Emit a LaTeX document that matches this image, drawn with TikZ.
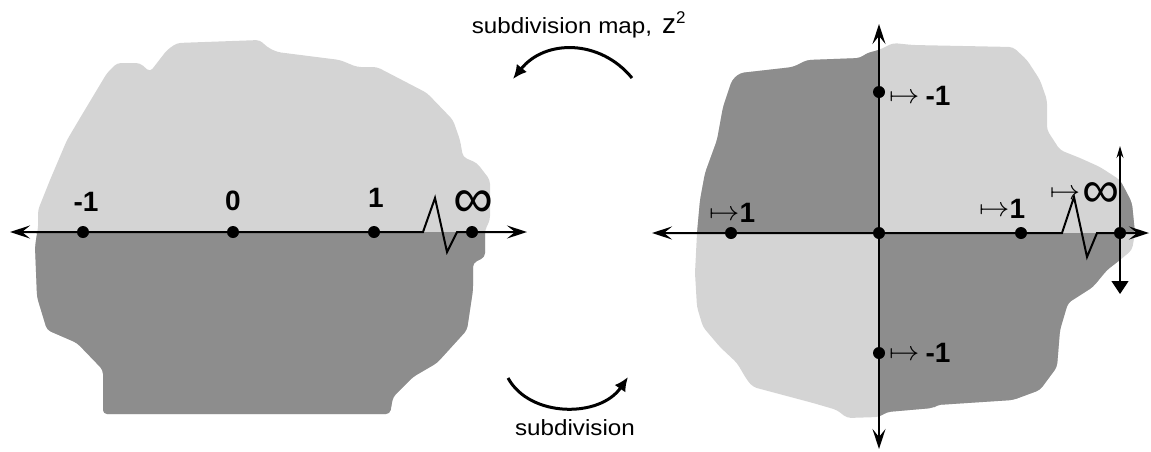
\documentclass[tikz,border=0pt]{standalone}
\usepackage{fontspec}
\usepackage{graphicx}
\setmainfont{Liberation Sans}
\usetikzlibrary{arrows.meta}
\definecolor{lightgr}{RGB}{212,212,212}
\definecolor{darkgr}{RGB}{141,141,141}
\newcommand{\mymap}{\raisebox{2pt}{\scalebox{1.22}[1.1]{$\mapsto$}}}
\begin{document}
\begin{tikzpicture}[x=1pt,y=-1pt,
  dot/.style={circle,fill=black,inner sep=0pt,minimum size=12pt},
  lbl/.style={inner sep=0pt,font=\fontsize{28}{30}\selectfont\bfseries},
  inflbl/.style={inner sep=0pt,font=\fontsize{56}{56}\selectfont},
  capt/.style={inner sep=0pt,font=\fontsize{22}{24}\selectfont},
  axisline/.style={line width=2pt,line join=miter,
    {Stealth[length=20pt,width=13pt,inset=8pt]}-{Stealth[length=20pt,width=13pt,inset=8pt]}},
  curvarrow/.style={line width=3pt,-{Latex[length=14pt,width=13pt]}},
]
\useasboundingbox (0,0) rectangle (1151,451);

% ---------------- left blob ----------------
\def\leftblob{(38,230) -- (38,210) -- (50,180) -- (67,140) -- (83,113) -- (107,73) -- (117,63) -- (140,63) -- (150,72) -- (167,50) -- (177,43) -- (260,40) -- (267,47) -- (277,52) -- (340,60) -- (357,67) -- (377,67) -- (427,93) -- (453,120) -- (460,140) -- (463,157) -- (477,163) -- (490,180) -- (490,220) -- (485,230) -- (485,257) -- (473,263) -- (473,290) -- (467,330) -- (437,363) -- (413,377) -- (393,397) -- (390,414) -- (103,414) -- (103,370) -- (77,343) -- (47,330) -- (37,297) -- (35,247) -- (37,233) -- cycle}
\fill[lightgr,rounded corners=4pt] \leftblob;
\begin{scope}
  \clip[rounded corners=4pt] \leftblob;
  \fill[darkgr] (0,232) rectangle (520,451);
\end{scope}

% ---------------- right blob ----------------
\def\rightblob{(879,50) -- (893,43) -- (913,45) -- (1013,47) -- (1027,60) -- (1040,80) -- (1047,100) -- (1047,130) -- (1060,150) -- (1080,158) -- (1100,167) -- (1120,180) -- (1127,193) -- (1132,203) -- (1135,233) -- (1132,250) -- (1120,260) -- (1107,270) -- (1093,287) -- (1068,303) -- (1060,330) -- (1057,367) -- (1040,390) -- (1013,400) -- (937,405) -- (933,408) -- (887,412) -- (879,417) -- (847,418) -- (837,410) -- (813,403) -- (753,387) -- (747,380) -- (737,363) -- (720,347) -- (703,327) -- (697,307) -- (695,273) -- (697,233) -- (700,200) -- (705,173) -- (717,140) -- (723,107) -- (732,80) -- (740,73) -- (793,67) -- (807,60) -- (860,58) -- (867,53) -- cycle}
\fill[lightgr,rounded corners=4pt] \rightblob;
\begin{scope}
  \clip[rounded corners=4pt] \rightblob;
  \fill[darkgr] (600,0) rectangle (879,233);
  \fill[darkgr] (879,233) rectangle (1120,451);
  \fill[darkgr] (1120,0) rectangle (1151,233);
\end{scope}

% ---------------- left axis ----------------
\coordinate (lA) at (10,232);
\coordinate (lZ0) at (423,232);
\coordinate (lZ1) at (435,198);
\coordinate (lZ2) at (447,252);
\coordinate (lZ3) at (457,232);
\coordinate (lB) at (527,232);
\draw[axisline] (lA) -- (lZ0) -- (lZ1) -- (lZ2) -- (lZ3) -- (lB);
\node[dot] (lm1) at (83,232) {};
\node[dot] (l0) at (233,232) {};
\node[dot] (l1) at (374,232) {};
\node[dot] (linf) at (472,232) {};
\node[lbl,anchor=base] (tm1) at (86,211) {-1};
\node[lbl,anchor=base] (t0) at (233,210) {0};
\node[lbl,anchor=base] (t1) at (376,207) {1};
\node[inflbl] (tinf) at (473,204) {∞};

% ---------------- right axes ----------------
\coordinate (rA) at (652,233);
\coordinate (rZ0) at (1062,233);
\coordinate (rZ1) at (1074,197);
\coordinate (rZ2) at (1087,257);
\coordinate (rZ3) at (1097,233);
\coordinate (rB) at (1149,233);
\coordinate (rT) at (879,24);
\coordinate (rBot) at (879,449);
\draw[axisline] (rA) -- (rZ0) -- (rZ1) -- (rZ2) -- (rZ3) -- (rB);
\draw[axisline] (rT) -- (rBot);
\coordinate (sT) at (1120,146);
\coordinate (sB) at (1120,294);
\draw[line width=1.2pt,{Stealth[length=12pt,width=7pt,inset=4pt]}-{Triangle[length=13pt,width=17pt]}] (sT) -- (sB);
\node[dot] (r0) at (879,233) {};
\node[dot] (rup) at (879,92) {};
\node[dot] (rdn) at (879,353) {};
\node[dot] (rl) at (731,233) {};
\node[dot] (rr) at (1021,233) {};
\node[dot] (rinf) at (1120,233) {};
\node[lbl,anchor=base west] (tup) at (889,105) {\mymap\hspace{6pt}-1};
\node[lbl,anchor=base west] (tdn) at (889,362) {\mymap\hspace{6pt}-1};
\node[lbl,anchor=base west] (tl) at (709,222) {\mymap1};
\node[lbl,anchor=base west] (tr) at (979,218) {\mymap1};
\node[lbl] (tmap) at (1065,194) {\scalebox{1.22}[1.1]{$\mapsto$}};
\node[inflbl,font=\fontsize{52}{52}\selectfont] (trinf) at (1101,195) {∞};

% ---------------- curved arrows ----------------
\coordinate (cTs) at (632,78);
\coordinate (cTe) at (513,79);
\draw[curvarrow] (cTs) .. controls (600,39) and (545,39) .. (cTe);
\coordinate (cBs) at (508,378);
\coordinate (cBe) at (628,377);
\draw[curvarrow] (cBs) .. controls (530,418) and (600,418) .. (cBe);
\node[capt,anchor=base] (captop) at (562,33) {\scalebox{1.1}[1]{subdivision map,}};
\node[inner sep=0pt,anchor=base west,font=\fontsize{28}{30}\selectfont] (zsq) at (662,33) {z\raisebox{10pt}{\fontsize{17}{17}\selectfont 2}};
\node[capt,anchor=base] (capbot) at (575,435) {\scalebox{1.1}[1]{subdivision}};
\end{tikzpicture}
\end{document}
